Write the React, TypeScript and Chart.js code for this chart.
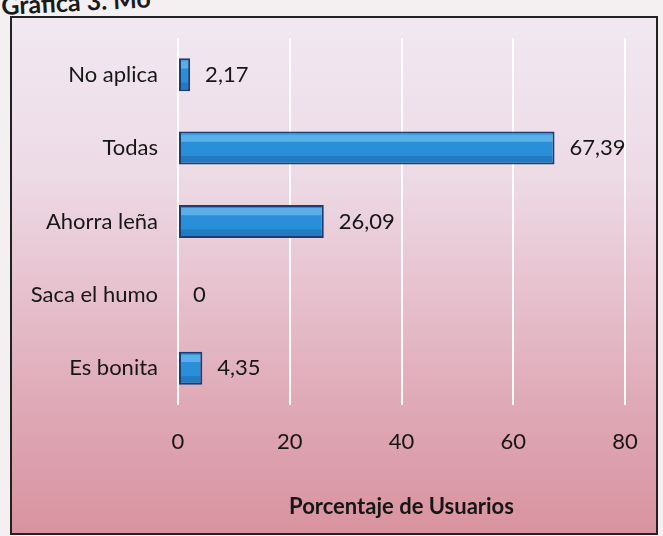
import React, { useEffect, useRef } from "react";
import { Chart, registerables } from "chart.js";

Chart.register(...registerables);

const categories = ["No aplica", "Todas", "Ahorra leña", "Saca el humo", "Es bonita"];
const values = [2.17, 67.39, 26.09, 0, 4.35];
const valueLabels = ["2,17", "67,39", "26,09", "0", "4,35"];
const xTicks = [0, 20, 40, 60, 80];
const axisTitle = "Porcentaje de Usuarios";
const pageTitle = "Gráfica 3. Mo";

const FONT = "Lato, 'Open Sans', sans-serif";

const valueLabelPlugin = {
  id: "valueLabels",
  afterDatasetsDraw(chart: any) {
    const ctx = chart.ctx;
    const meta = chart.getDatasetMeta(0);
    ctx.save();
    meta.data.forEach((bar: any, i: number) => {
      const { x, y, base, height } = bar.getProps(["x", "y", "base", "height"], true);
      if (values[i] > 0) {
        const left = Math.min(x, base) + 2;
        const w = Math.abs(x - base) - 4;
        if (w > 0) {
          ctx.fillStyle = "rgba(150,215,250,0.45)";
          ctx.fillRect(left, y - height / 2 + 3, w, height * 0.22);
          ctx.fillStyle = "rgba(10,50,110,0.22)";
          ctx.fillRect(left, y + height / 2 - height * 0.2 - 2, w, height * 0.2);
        }
      }
      ctx.fillStyle = "#161616";
      ctx.font = `22px ${FONT}`;
      ctx.textAlign = "left";
      ctx.textBaseline = "middle";
      ctx.fillText(valueLabels[i], x + 15, y);
    });
    ctx.restore();
  },
};

export default function App() {
  const canvasRef = useRef<HTMLCanvasElement | null>(null);

  useEffect(() => {
    document.body.style.margin = "0";
    const canvas = canvasRef.current;
    if (!canvas) return;
    const chart = new Chart(canvas, {
      type: "bar",
      data: {
        labels: categories,
        datasets: [
          {
            data: values,
            backgroundColor: "#2a8fd9",
            borderColor: "#1b3d72",
            borderWidth: 2,
            borderSkipped: false,
            barPercentage: 0.9,
            categoryPercentage: 0.5,
          },
        ],
      },
      options: {
        indexAxis: "y",
        animation: false,
        responsive: false,
        maintainAspectRatio: false,
        layout: { padding: { top: 20, right: 31, left: 0, bottom: 0 } },
        plugins: {
          legend: { display: false },
          tooltip: { enabled: false },
        },
        scales: {
          x: {
            type: "linear",
            min: xTicks[0],
            max: xTicks[xTicks.length - 1],
            afterBuildTicks(scale: any) {
              scale.ticks = xTicks.map((v) => ({ value: v }));
            },
            afterFit(scale: any) {
              scale.height = 128;
              scale.paddingLeft = 0;
              scale.paddingRight = 0;
            },
            border: { display: false },
            grid: {
              color: "rgba(255,255,255,0.95)",
              lineWidth: 2,
              drawTicks: false,
            },
            ticks: {
              padding: 24,
              color: "#161616",
              font: { family: FONT, size: 22 },
            },
            title: {
              display: true,
              text: axisTitle,
              color: "#161616",
              font: { family: FONT, size: 22, weight: "bold" },
              padding: { top: 0, bottom: 13 },
            },
          },
          y: {
            afterFit(scale: any) {
              scale.width = 166;
              scale.paddingTop = 0;
              scale.paddingBottom = 0;
            },
            border: { display: false },
            grid: { display: false, drawTicks: false },
            ticks: {
              padding: 20,
              color: "#161616",
              font: { family: FONT, size: 22 },
            },
          },
        },
      },
      plugins: [valueLabelPlugin],
    });
    return () => chart.destroy();
  }, []);

  return (
    <div
      style={{
        position: "relative",
        width: 663,
        height: 536,
        overflow: "hidden",
        background: "#f4f0f2",
        fontFamily: FONT,
      }}
    >
      <div
        style={{
          position: "absolute",
          left: 2,
          top: -10,
          fontSize: 25,
          fontWeight: "bold",
          color: "#1a1a1a",
          transform: "rotate(-3deg)",
          transformOrigin: "left bottom",
          whiteSpace: "nowrap",
        }}
      >
        {pageTitle}
      </div>
      <div
        style={{
          position: "absolute",
          left: 10,
          top: 16,
          width: 644,
          height: 515,
          border: "2px solid #222",
          background:
            "linear-gradient(180deg, #f1e8f1 0%, #eddbe6 30%, #e6bfcc 55%, #dea6b4 78%, #d9939f 100%)",
        }}
      >
        <canvas ref={canvasRef} width={644} height={515} style={{ display: "block" }} />
      </div>
    </div>
  );
}
